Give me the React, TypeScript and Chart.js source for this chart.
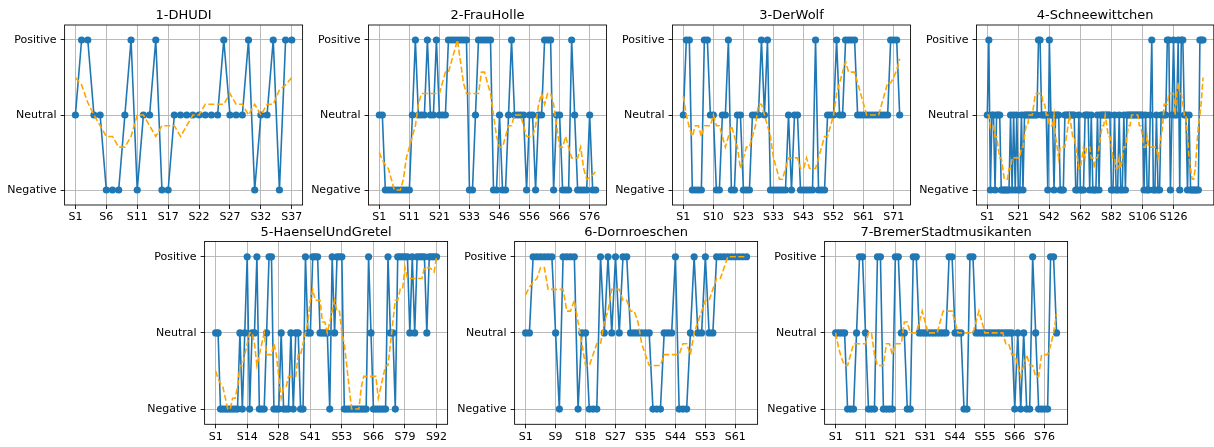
import { useEffect, useRef } from 'react';
import { Chart, registerables } from 'chart.js';

Chart.register(...registerables);

// ---------- data ----------
const sentimentLabels = ['Negative', 'Neutral', 'Positive'];

const titles = [
  '1-DHUDI',
  '2-FrauHolle',
  '3-DerWolf',
  '4-Schneewittchen',
  '5-HaenselUndGretel',
  '6-Dornroeschen',
  '7-BremerStadtmusikanten',
];

const dhudi = [0, 1, 1, 0, 0, -1, -1, -1, 0, 1, -1, 0, 0, 1, -1, -1, 0, 0, 0, 0, 0, 0, 0, 0, 1, 0, 0, 0, 1, -1, 0, 0, 1, -1, 1, 1];

const frauHolle = [0, 0, -1, -1, -1, -1, -1, -1, -1, -1, -1, 0, 1, 0, 0, 0, 1, 0, 0, 1, 0, 0, 0, 1, 1, 1, 1, 1, 1, 1, -1, -1, 0, 1, 1, 1, 1, 1, -1, -1, 0, -1, -1, 0, 1, 0, 0, 0, 0, -1, 0, 0, -1, 0, 0, 1, 1, 1, -1, 0, 0, -1, -1, -1, 1, 0, -1, -1, -1, -1, 0, -1, -1];

const derWolf = [0, 1, 1, -1, -1, -1, -1, 1, 1, 0, 0, -1, -1, 0, 0, 1, -1, -1, 0, 0, -1, -1, -1, 0, 0, 0, 1, 0, 1, -1, -1, -1, -1, -1, -1, 0, -1, 0, 0, -1, -1, -1, -1, -1, 1, -1, -1, -1, 0, 0, 0, 1, 0, 0, 1, 1, 1, 1, 0, 0, 0, 0, 0, 0, 0, 0, 0, 0, 0, 1, 1, 1, 0];

const schneewittchen = [0, 1, -1, 0, 0, -1, 0, 0, 0, -1, -1, -1, -1, -1, -1, 0, -1, 0, -1, 0, -1, -1, 0, -1,
  0, 0, 0, 0, 0, 0, 0, 0, 0, 1, 1, 0, 0, 0, 0,
  -1, 1, 0, 0, -1, 0, 0, 0, -1, -1, -1,
  0, 0, 0, 0, 0, 0, 0,
  -1, -1, 0, -1, -1, -1, 0, 0, 0, -1, 0, -1, -1, -1, 0, -1,
  0, 0, 0, 0, 0, 0, 0,
  -1, -1, 0, -1, -1, 0, -1, -1, 0, -1,
  0, 0, 0, 0, 0, 0, 0, 0, 0, 0, 0,
  -1, 0, -1, -1, 0, 1, -1, -1, 0, -1, -1,
  0, 0, 0, 0,
  1, 1, -1, 0, 1, 0, 0, 1, -1, 1, 1, 0, 0, -1, 0,
  -1, -1, -1, -1, -1, -1, 1, 1, 1];

const haenselUndGretel = [0, 0, -1, -1, -1, -1, -1, -1, -1, -1, 0, -1, 0, 1, -1, 0, 0, 1, -1, -1, -1, 0, 1, 1, -1, -1, -1, 0, -1, -1, -1, 0, -1, 0, 0, -1, -1, 1, 0, 0, 1, 1, 1, 0, 0, 0, 0, -1, 1, 0, 1, 1, 1, -1, -1, -1, -1, -1, -1, -1, -1, -1, -1, 1, 0, -1, -1, -1, -1, -1, -1, 1, 0, 0, -1, 1, 1, 1, 1, 1, 0, 1, 0, 1, 1, 1, 1, 0, 1, 1, 1, 1];

const dornroeschen = [0, 0, 1, 1, 1, 1, 1, 1, 0, -1, 1, 1, 1, 1, -1, 0, 0, -1, -1, -1, 1, 0, 1, 0, 1, 0, 1, 1, 0, 0, 0, 0, 0, 0, -1, -1, -1, 0, 0, 0, 1, -1, -1, -1, 0, 1, 0, 0, 1, 0, 0, 1, 1, 1, 1, 1, 1, 1, 1, 1];

const bremerStadtmusikanten = [0, 0, 0, 0, -1, -1, -1, 0, 1, 1, 0, -1, -1, -1, 1, 1, -1, -1, -1, -1, 1, 1, 0, 0, -1, -1, 1, 1, 0, 0, 0, 0, 0, 0, 0, 0, 0, 0, 1, 1, 0, 0, 0, -1, -1, 1, 1, 0, 0, 0, 0, 0, 0, 0, 0, 0, 0, 0, 0, 0, -1, 0, -1, 0, -1, -1, 1, 0, -1, -1, -1, -1, 1, 1, 0];

const dhudiTicks = ['S1', 'S6', 'S11', 'S17', 'S22', 'S27', 'S32', 'S37'];
const frauHolleTicks = ['S1', 'S11', 'S21', 'S33', 'S46', 'S56', 'S66', 'S76'];
const derWolfTicks = ['S1', 'S10', 'S23', 'S33', 'S43', 'S52', 'S61', 'S71'];
const schneewittchenTicks = ['S1', 'S21', 'S42', 'S62', 'S82', 'S106', 'S126'];
const haenselTicks = ['S1', 'S14', 'S28', 'S41', 'S53', 'S66', 'S79', 'S92'];
const dornroeschenTicks = ['S1', 'S9', 'S18', 'S27', 'S35', 'S44', 'S53', 'S61'];
const bremerTicks = ['S1', 'S11', 'S21', 'S31', 'S44', 'S55', 'S66', 'S76'];

const tickSteps = [5, 10, 10, 20, 13, 8, 10];
const ROLLING_WINDOW = 7;

const seriesList = [dhudi, frauHolle, derWolf, schneewittchen, haenselUndGretel, dornroeschen, bremerStadtmusikanten];
const tickList = [dhudiTicks, frauHolleTicks, derWolfTicks, schneewittchenTicks, haenselTicks, dornroeschenTicks, bremerTicks];

// ---------- layout ----------
const W = 1214;
const H = 447;
const CANVAS_W = 1240;
const YW = 60;
const XH = 20;
const TOP_W = 238;
const BOT_W = 243;
const panels = [
  { left: 64.6, width: TOP_W, top: 25, bottom: 205 },
  { left: 368.5, width: TOP_W, top: 25, bottom: 205 },
  { left: 672.5, width: TOP_W, top: 25, bottom: 205 },
  { left: 976.5, width: 237.3, top: 25, bottom: 205 },
  { left: 204.6, width: BOT_W, top: 241.5, bottom: 424.3 },
  { left: 514.6, width: BOT_W, top: 241.5, bottom: 424.3 },
  { left: 824.6, width: BOT_W, top: 241.5, bottom: 424.3 },
];

const FONT = '"DejaVu Sans", "Liberation Sans", sans-serif';
const BLUE = '#1f77b4';
const ORANGE = '#ffa500';
const GRID = '#b0b0b0';
const LW = 0.86;

function rollingMean(values: number[], window: number): number[] {
  const half = Math.floor(window / 2);
  return values.map((_, i) => {
    const slice = values.slice(Math.max(0, i - half), Math.min(values.length, i + half + 1));
    return slice.reduce((a, b) => a + b, 0) / slice.length;
  });
}

const framePlugin = {
  id: 'frame',
  afterDatasetsDraw(chart: any) {
    const { ctx, chartArea } = chart;
    ctx.save();
    ctx.strokeStyle = '#000';
    ctx.lineWidth = LW;
    ctx.strokeRect(chartArea.left, chartArea.top, chartArea.right - chartArea.left, chartArea.bottom - chartArea.top);
    ctx.restore();
  },
  afterDraw(chart: any, _args: any, opts: any) {
    const { ctx, chartArea } = chart;
    ctx.save();
    ctx.fillStyle = '#000';
    ctx.font = `13px ${FONT}`;
    ctx.textAlign = 'center';
    ctx.textBaseline = 'alphabetic';
    ctx.fillText(opts.title, (chartArea.left + chartArea.right) / 2, chartArea.top - 6);
    ctx.restore();
  },
};

function makeChart(canvas: HTMLCanvasElement, k: number) {
  const values = seriesList[k];
  const labels = tickList[k];
  const step = tickSteps[k];
  const p = panels[k];
  const n = values.length;
  const smooth = rollingMean(values, ROLLING_WINDOW);
  const tickFont = { family: FONT, size: 11 };

  return new Chart(canvas, {
    type: 'line',
    data: {
      datasets: [
        {
          data: smooth.map((y, i) => ({ x: i, y })),
          borderColor: ORANGE,
          borderWidth: 1.6,
          borderDash: [6, 2.6],
          pointRadius: 0,
          pointHoverRadius: 0,
          tension: 0,
          order: 0,
        },
        {
          data: values.map((y, i) => ({ x: i, y })),
          borderColor: BLUE,
          backgroundColor: BLUE,
          borderWidth: 1.6,
          pointRadius: 3.6,
          pointHoverRadius: 3.6,
          pointBorderWidth: 0,
          pointBackgroundColor: BLUE,
          tension: 0,
          order: 1,
        },
      ],
    },
    options: {
      animation: false,
      responsive: false,
      events: [],
      layout: {
        padding: {
          left: p.left - YW,
          top: p.top,
          right: CANVAS_W - (p.left + p.width),
          bottom: H - p.bottom - XH,
        },
      },
      plugins: {
        legend: { display: false },
        tooltip: { enabled: false },
        title: { display: false },
        frame: { title: titles[k] },
      } as any,
      scales: {
        x: {
          type: 'linear',
          bounds: 'data',
          min: -0.05 * (n - 1),
          max: 1.05 * (n - 1),
          afterBuildTicks: (scale: any) => {
            scale.ticks = labels.map((_, j) => ({ value: j * step }));
          },
          afterFit: (scale: any) => {
            scale.height = XH;
          },
          ticks: {
            autoSkip: false,
            maxRotation: 0,
            minRotation: 0,
            padding: 2,
            color: '#000',
            font: tickFont,
            callback: (v: any) => labels[Math.round(Number(v) / step)] ?? '',
          },
          grid: {
            color: GRID,
            lineWidth: LW,
            tickLength: 4,
            tickColor: '#000',
            tickWidth: LW,
          },
          border: { display: false },
        },
        y: {
          type: 'linear',
          bounds: 'data',
          min: -1.2,
          max: 1.2,
          afterBuildTicks: (scale: any) => {
            scale.ticks = sentimentLabels.map((_, j) => ({ value: j - 1 }));
          },
          afterFit: (scale: any) => {
            scale.width = YW;
          },
          ticks: {
            autoSkip: false,
            padding: 4,
            color: '#000',
            font: tickFont,
            callback: (v: any) => sentimentLabels[Math.round(Number(v)) + 1] ?? '',
          },
          grid: {
            color: GRID,
            lineWidth: LW,
            tickLength: 4,
            tickColor: '#000',
            tickWidth: LW,
          },
          border: { display: false },
        },
      },
    } as any,
    plugins: [framePlugin as any],
  });
}

export default function App() {
  const refs = useRef<(HTMLCanvasElement | null)[]>([]);

  useEffect(() => {
    document.body.style.margin = '0';
    const charts = seriesList.map((_, k) => makeChart(refs.current[k] as HTMLCanvasElement, k));
    return () => charts.forEach((c) => c.destroy());
  }, []);

  return (
    <div
      style={{
        position: 'fixed',
        left: 0,
        top: 0,
        width: W,
        height: H,
        overflow: 'hidden',
        background: '#fff',
      }}
    >
      {seriesList.map((_, k) => (
        <canvas
          key={k}
          ref={(el) => {
            refs.current[k] = el;
          }}
          width={CANVAS_W}
          height={H}
          style={{ position: 'absolute', left: 0, top: 0, width: CANVAS_W, height: H }}
        />
      ))}
    </div>
  );
}
